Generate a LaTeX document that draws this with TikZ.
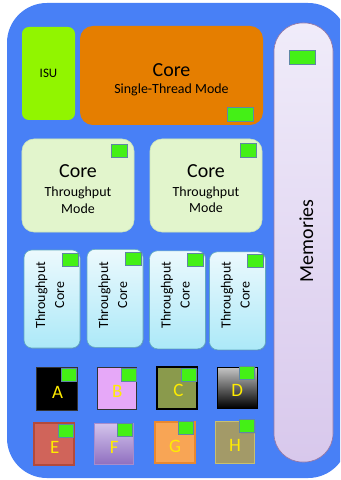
\documentclass[tikz,border=0pt]{standalone}
\usepackage{fontspec}
\setmainfont{Carlito}
\usetikzlibrary{shadows}
\definecolor{bgblue}{RGB}{72,128,246}
\definecolor{isugreen}{RGB}{145,245,0}
\definecolor{coreorange}{RGB}{229,126,0}
\definecolor{tmgreen}{RGB}{226,245,204}
\definecolor{tmborder}{RGB}{205,230,185}
\definecolor{vctop}{RGB}{236,249,253}
\definecolor{vcbot}{RGB}{172,233,248}
\definecolor{vcborder}{RGB}{95,170,190}
\definecolor{memtop}{RGB}{240,236,250}
\definecolor{membot}{RGB}{216,200,236}
\definecolor{memborder}{RGB}{150,120,165}
\definecolor{sqgreen}{RGB}{68,240,22}
\definecolor{sqborder}{RGB}{95,135,165}
\definecolor{lettercol}{RGB}{255,236,0}
\definecolor{bfill}{RGB}{230,168,248}
\definecolor{cfill}{RGB}{138,154,76}
\definecolor{efill}{RGB}{208,100,90}
\definecolor{eborder}{RGB}{178,74,60}
\definecolor{ftop}{RGB}{212,196,236}
\definecolor{fbot}{RGB}{144,112,192}
\definecolor{gfill}{RGB}{248,165,85}
\definecolor{gborder}{RGB}{232,136,48}
\definecolor{hfill}{RGB}{163,154,104}
\definecolor{hborder}{RGB}{200,192,112}
\tikzset{
  sz/.style 2 args={minimum width=#1bp, minimum height=#2bp},
  box/.style={inner sep=0pt, outer sep=0pt},
  shad/.style={drop shadow={opacity=0.25, shadow xshift=0.8pt, shadow yshift=-0.8pt}},
  gsq/.style={box, fill=sqgreen, draw=sqborder, line width=0.6pt, shad},
  isubox/.style={box, fill=isugreen, rounded corners=7pt},
  stbox/.style={box, fill=coreorange, rounded corners=13pt},
  tmbox/.style={box, fill=tmgreen, draw=tmborder, line width=0.6pt, rounded corners=12pt},
  vcbox/.style={box, top color=vctop, bottom color=vcbot, draw=vcborder, line width=0.6pt, rounded corners=8pt, shad},
  membox/.style={box, top color=memtop, bottom color=membot, draw=memborder, line width=0.7pt, rounded corners=28.5pt},
  lbox/.style={box, shad},
  bigtxt/.style={font=\fontsize{20}{22}\selectfont, anchor=base, inner sep=0pt},
  midtxt/.style={font=\fontsize{14}{16}\selectfont, anchor=base, inner sep=0pt},
  lettxt/.style={font=\fontsize{19}{20}\selectfont, text=lettercol, anchor=base, inner sep=0pt},
}
\begin{document}
\begin{tikzpicture}[x=1bp,y=-1bp]
\useasboundingbox (0,0) rectangle (340,480);
\begin{scope}
\clip (0,0) rectangle (340,480);
\fill[bgblue, rounded corners=40pt] (7,3) rectangle (348,478);
\end{scope}

% ISU
\node[isubox, sz={53}{93}, font=\fontsize{13}{15}\selectfont] (isu) at (48.5,73.5) {ISU};

% Core single-thread
\node[stbox, sz={183}{99}] (st) at (171.5,75.5) {};
\node[bigtxt] (stcore) at (171.5,77) {Core};
\node[midtxt] (stmode) at (171.5,94) {Single-Thread Mode};
\node[gsq, sz={26}{14}] (stg) at (240,114) {};

% Throughput mode cores
\node[tmbox, sz={112}{93}] (tm1) at (78,185.5) {};
\node[bigtxt] (tm1a) at (78,178) {Core};
\node[midtxt] (tm1b) at (78,196) {Throughput};
\node[midtxt] (tm1c) at (78,213) {Mode};
\node[gsq, sz={16}{13}] (tm1g) at (119,150.5) {};

\node[tmbox, sz={112}{93}] (tm2) at (206,185.5) {};
\node[bigtxt] (tm2a) at (206,177.5) {Core};
\node[midtxt] (tm2b) at (206,196) {Throughput};
\node[midtxt] (tm2c) at (206,212.5) {Mode};
\node[gsq, sz={16}{14}] (tm2g) at (248,150) {};

% Memories
\node[membox, sz={59}{439}] (mem) at (303.5,242.5) {};
\node[font=\fontsize{20}{22}\selectfont, rotate=90, anchor=base, inner sep=0pt] (memt) at (313,241) {Memories};
\node[gsq, sz={26}{14}] (memg) at (302,57) {};

% Vertical throughput cores
\foreach \i/\cx/\cy/\gx/\gy in {1/52/299/70/259.5, 2/115/298.3/133/259, 3/177.5/299.8/195.5/259.5, 4/237.5/300.8/255.3/261}{
  \node[vcbox, sz={56}{98}] (vc\i) at (\cx,\cy) {};
  \node[midtxt, rotate=90] (vc\i a) at ({\cx-7},295) {Throughput};
  \node[midtxt, rotate=90] (vc\i b) at ({\cx+12},295) {Core};
  \node[gsq, sz={16}{13}] (vc\i g) at (\gx,\gy) {};
}

% Letter boxes
\node[lbox, fill=black, draw=black!80, line width=0.6pt, sz={41}{43}] (A) at (56.5,388.5) {};
\node[lbox, fill=bfill, draw=black!80, line width=0.8pt, sz={39}{42}] (B) at (116.5,388.5) {};
\node[lbox, fill=cfill, draw=black, line width=1.3pt, sz={40}{42}] (C) at (177,388) {};
\node[lbox, top color=black!22, bottom color=black, draw=black, line width=0.8pt, sz={40}{41}] (D) at (237,387.5) {};
\node[lbox, fill=efill, draw=eborder, line width=1.3pt, sz={40}{42}] (E) at (54,444) {};
\node[lbox, top color=ftop, bottom color=fbot, draw=fbot!80, line width=0.5pt, sz={39}{41}] (F) at (113.5,443.5) {};
\node[lbox, fill=gfill, draw=gborder, line width=1.3pt, sz={40}{41}] (G) at (175,442.5) {};
\node[lbox, fill=hfill, draw=hborder, line width=0.9pt, sz={39}{42}] (H) at (234.5,442) {};

\node[gsq, sz={15}{13}] (Ag) at (68.5,374.7) {};
\node[gsq, sz={15}{13}] (Bg) at (128.3,375) {};
\node[gsq, sz={15}{13}] (Cg) at (189.2,374.7) {};
\node[gsq, sz={15}{13}] (Dg) at (247.2,373) {};
\node[gsq, sz={15}{13}] (Eg) at (65.7,430.5) {};
\node[gsq, sz={15}{13}] (Fg) at (125,429.3) {};
\node[gsq, sz={15}{13}] (Gg) at (185.8,427.7) {};
\node[gsq, sz={15}{13}] (Hg) at (247.2,426.2) {};

\node[lettxt] (At) at (57.5,398) {A};
\node[lettxt] (Bt) at (117.3,397) {B};
\node[lettxt] (Ct) at (178.3,396.7) {C};
\node[lettxt] (Dt) at (237.2,396) {D};
\node[lettxt] (Et) at (54.7,453.3) {E};
\node[lettxt] (Ft) at (114.2,453.3) {F};
\node[lettxt] (Gt) at (175.2,452.3) {G};
\node[lettxt] (Ht) at (235,451.7) {H};
\end{tikzpicture}
\end{document}
